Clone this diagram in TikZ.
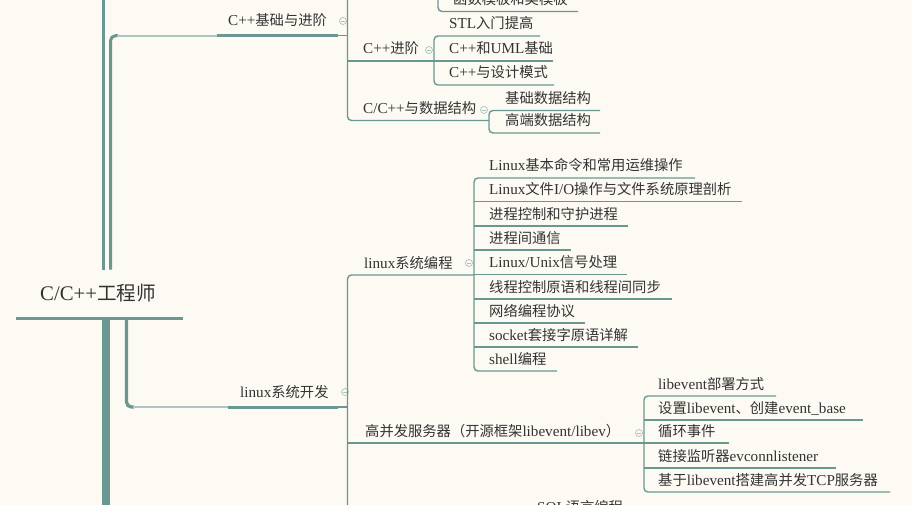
\documentclass[tikz,border=0pt]{standalone}
\usepackage{fontspec}
\setmainfont{Liberation Serif}[Scale=1.06]
\newfontfamily\zh{Noto Sans CJK SC}
\definecolor{bgc}{RGB}{252,250,243}
\definecolor{tealA}{RGB}{104,152,145}
\definecolor{tealL}{RGB}{172,199,193}
\definecolor{iconc}{RGB}{172,192,188}
\definecolor{txt}{RGB}{51,51,51}
\begin{document}
\begin{tikzpicture}[x=1pt,y=-1pt,
  lbl/.style={anchor=base west, inner sep=0pt, text=txt, font=\fontsize{14.3}{16}\selectfont},
  rootlbl/.style={anchor=base west, inner sep=0pt, text=txt, font=\fontsize{19.6}{22}\selectfont},
  br/.style={draw=tealA, line width=1.4pt, rounded corners=4pt},
  heavy/.style={draw=tealA, line width=3pt},
  light/.style={draw=tealL, line width=1.8pt},
  fold/.style={circle, draw=iconc, line width=0.7pt, minimum size=7pt, inner sep=0pt,
    path picture={\draw[iconc, line width=0.7pt] ([xshift=1.6pt]path picture bounding box.west) -- ([xshift=-1.6pt]path picture bounding box.east);}}
]
\path[use as bounding box] (0,0) rectangle (912,505);
\clip (0,0) rectangle (912,505);
\fill[bgc] (0,0) rectangle (912,505);

% ---- root and trunk ----
\node[rootlbl] (root) at (40,300) {C/C++{\zh 工程师}};
\draw[tealA, line width=2.7pt] (16,318.7) -- (183,318.7);
\draw[tealA, line width=3.6pt] (103.5,-3) -- (103.5,269.5);
\draw[tealA, line width=3pt, rounded corners=5pt] (110.5,269.5) -- (110.5,35.7) -- (118,35.7);
\draw[light] (117,35.7) -- (217,35.7);
\draw[heavy] (217,35.7) -- (338,35.7);
\draw[br] (337,35.7) -- (347.5,35.7);
\draw[tealA, line width=8pt] (105.5,320) -- (105.5,510);
\draw[tealA, line width=3.3pt, rounded corners=5pt] (126.5,320) -- (126.5,407) -- (134,407);
\draw[light] (133,407) -- (228,407);
\draw[heavy] (228,407) -- (338,407);
\draw[br] (337,407) -- (347.5,407);

% ---- level 1 ----
\node[lbl] (n1) at (228,26) {C++{\zh 基础与进阶}};
\node[fold] (f1) at (343,21) {};
\node[lbl] (n2) at (240,397) {linux{\zh 系统开发}};
\node[fold] (f2) at (345,392) {};

% ---- C++ basics block ----
\draw[br] (347.5,-5) -- (347.5,120.5) -- (489,120.5);
\draw[br] (347.5,61) -- (434,61);
\node[lbl] (a1) at (363,54) {C++{\zh 进阶}};
\node[fold] (fa1) at (429,50) {};
\node[lbl] (a2) at (363,113.5) {C/C++{\zh 与数据结构}};
\node[fold] (fa2) at (484,110) {};

\draw[br] (438,-5) -- (438,11.5) -- (578,11.5);
\node[lbl] (a0x) at (453,4.5) {{\zh 函数模板和类模板}};

\draw[br] (540,36) -- (434,36) -- (434,85) -- (554,85);
\draw[br] (434,61) -- (553,61);
\node[lbl] (b1) at (449,29) {STL{\zh 入门提高}};
\node[lbl] (b2) at (449,54) {C++{\zh 和}UML{\zh 基础}};
\node[lbl] (b3) at (449,78) {C++{\zh 与设计模式}};

\draw[br] (600,110.5) -- (489,110.5) -- (489,133) -- (600,133);
\node[lbl] (c1) at (505,103.5) {{\zh 基础数据结构}};
\node[lbl] (c2) at (505,126) {{\zh 高端数据结构}};

% ---- linux block ----
\draw[br] (347.5,510) -- (347.5,275) -- (474,275);
\draw[br] (347.5,443) -- (644,443);
\node[lbl] (d1) at (364,268) {linux{\zh 系统编程}};
\node[fold] (fd1) at (469,263) {};
\node[lbl] (d2) at (365,436) {{\zh 高并发服务器（开源框架}libevent/libev{\zh ）}};
\node[fold] (fd2) at (639,433) {};
\node[lbl] (d3) at (537,512) {SQL{\zh 语言编程}};

\draw[br] (695,178) -- (474,178) -- (474,371) -- (557,371);
\draw[br] (474,201.7) -- (742,201.7);
\draw[br] (474,226) -- (628,226);
\draw[br] (474,250) -- (571,250);
\draw[br] (474,274.5) -- (627,274.5);
\draw[br] (474,299) -- (672,299);
\draw[br] (474,323) -- (585,323);
\draw[br] (474,347) -- (638,347);
\node[lbl] (e1) at (489,171) {Linux{\zh 基本命令和常用运维操作}};
\node[lbl] (e2) at (489,194.7) {Linux{\zh 文件}I/O{\zh 操作与文件系统原理剖析}};
\node[lbl] (e3) at (489,219) {{\zh 进程控制和守护进程}};
\node[lbl] (e4) at (489,243) {{\zh 进程间通信}};
\node[lbl] (e5) at (489,267.5) {Linux/Unix{\zh 信号处理}};
\node[lbl] (e6) at (489,292) {{\zh 线程控制原语和线程间同步}};
\node[lbl] (e7) at (489,316) {{\zh 网络编程协议}};
\node[lbl] (e8) at (489,340) {socket{\zh 套接字原语详解}};
\node[lbl] (e9) at (489,364) {shell{\zh 编程}};

\draw[br] (776,396) -- (644,396) -- (644,492) -- (890,492);
\draw[br] (644,420) -- (863,420);
\draw[br] (644,443) -- (729,443);
\draw[br] (644,468) -- (836,468);
\node[lbl] (g1) at (658,389) {libevent{\zh 部署方式}};
\node[lbl] (g2) at (658,413) {{\zh 设置}libevent{\zh 、创建}event\_base};
\node[lbl] (g3) at (658,436) {{\zh 循环事件}};
\node[lbl] (g4) at (658,461) {{\zh 链接监听器}evconnlistener};
\node[lbl] (g5) at (658,485) {{\zh 基于}libevent{\zh 搭建高并发}TCP{\zh 服务器}};
\end{tikzpicture}
\end{document}
